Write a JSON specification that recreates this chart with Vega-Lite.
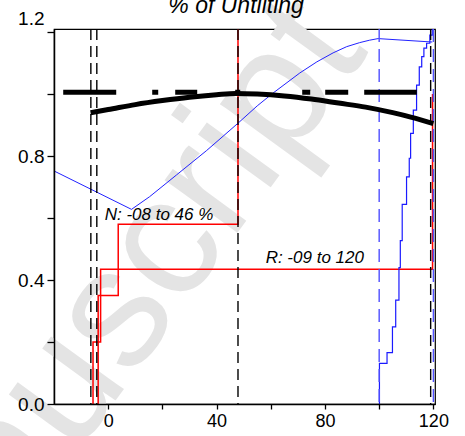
{
  "$schema": "https://vega.github.io/schema/vega-lite/v6.json",
  "autosize": "none",
  "width": 381,
  "height": 375,
  "padding": {"left": 54, "top": 29, "right": 30, "bottom": 32},
  "background": "white",
  "config": {
    "font": "Liberation Sans",
    "view": {"stroke": "black", "strokeWidth": 1.2}
  },
  "datasets": {
    "watermark": [{"label": "Manuscript", "x": -9, "y": 0.15}],
    "heading": [{"label": "% of Untilting", "x": 47.2, "y": 1.262}],
    "redcdf": [
      {"series": "R", "o": 1, "x": -5.6, "y": 0},
      {"series": "R", "o": 2, "x": -5.6, "y": 0.2},
      {"series": "R", "o": 3, "x": -2.8, "y": 0.435},
      {"series": "R", "o": 4, "x": 119.7, "y": 1.0},
      {"series": "N", "o": 1, "x": -3.7, "y": 0},
      {"series": "N", "o": 2, "x": -3.7, "y": 0.35},
      {"series": "N", "o": 3, "x": 3.7, "y": 0.58},
      {"series": "N", "o": 4, "x": 47.9, "y": 1.21}
    ],
    "bluecdf": [
      {"o": 1, "x": 100.1, "y": 0},
      {"o": 2, "x": 100.1, "y": 0.131},
      {"o": 3, "x": 102.9, "y": 0.166},
      {"o": 4, "x": 104.9, "y": 0.249},
      {"o": 5, "x": 106.1, "y": 0.335},
      {"o": 6, "x": 107.3, "y": 0.44},
      {"o": 7, "x": 107.8, "y": 0.527},
      {"o": 8, "x": 108.5, "y": 0.644},
      {"o": 9, "x": 110.1, "y": 0.733},
      {"o": 10, "x": 111.1, "y": 0.793},
      {"o": 11, "x": 111.6, "y": 0.873},
      {"o": 12, "x": 112.6, "y": 0.948},
      {"o": 13, "x": 113.8, "y": 1.029},
      {"o": 14, "x": 114.8, "y": 1.088},
      {"o": 15, "x": 115.7, "y": 1.121},
      {"o": 16, "x": 116.5, "y": 1.148},
      {"o": 17, "x": 117.5, "y": 1.164},
      {"o": 18, "x": 118.7, "y": 1.19},
      {"o": 19, "x": 119.6, "y": 1.21}
    ],
    "bluecurve": [
      {"o": 1, "x": -20, "y": 0.752},
      {"o": 2, "x": 8.6, "y": 0.628},
      {"o": 3, "x": 15.3, "y": 0.669},
      {"o": 4, "x": 25.2, "y": 0.739},
      {"o": 5, "x": 36.2, "y": 0.817},
      {"o": 6, "x": 42.4, "y": 0.864},
      {"o": 7, "x": 47.9, "y": 0.906},
      {"o": 8, "x": 55, "y": 0.962},
      {"o": 9, "x": 60.8, "y": 1.003},
      {"o": 10, "x": 70.7, "y": 1.068},
      {"o": 11, "x": 77, "y": 1.104},
      {"o": 12, "x": 83, "y": 1.133},
      {"o": 13, "x": 88, "y": 1.153},
      {"o": 14, "x": 92.8, "y": 1.166},
      {"o": 15, "x": 96.5, "y": 1.174},
      {"o": 16, "x": 99.6, "y": 1.179},
      {"o": 17, "x": 119.6, "y": 1.168}
    ],
    "vblack": [{"x": -6.4}, {"x": -4.2}, {"x": 47.9}, {"x": 119}],
    "vblue": [{"x": 100}, {"x": 120}],
    "blackcurve": [
      {"x": -6.5, "y": 0.94},
      {"x": 0, "y": 0.95},
      {"x": 10, "y": 0.966},
      {"x": 20, "y": 0.979},
      {"x": 30, "y": 0.99},
      {"x": 40, "y": 0.998},
      {"x": 47, "y": 1.002},
      {"x": 55, "y": 1.0},
      {"x": 65, "y": 0.994},
      {"x": 75, "y": 0.984},
      {"x": 85, "y": 0.971},
      {"x": 95, "y": 0.958},
      {"x": 105, "y": 0.94},
      {"x": 112, "y": 0.925},
      {"x": 120, "y": 0.905}
    ],
    "blackdash": [{"x": -16.6, "y": 1.006}, {"x": 113.9, "y": 1.006}],
    "labels": [
      {"label": "N: -08 to 46 %", "x": -1.3, "y": 0.594},
      {"label": "R: -09 to 120", "x": 58.1, "y": 0.456}
    ]
  },
  "encoding": {
    "x": {
      "field": "x",
      "type": "quantitative",
      "scale": {"domain": [-20, 120.6], "nice": false, "zero": false},
      "axis": {
        "title": null,
        "grid": false,
        "zindex": 1,
        "values": [0, 20, 40, 60, 80, 100, 120],
        "labelExpr": "datum.value % 40 === 0 ? datum.label : ''",
        "labelFont": "Liberation Sans",
        "labelFontSize": 18,
        "labelColor": "black",
        "labelPadding": 3,
        "tickSize": 5,
        "tickColor": "black",
        "tickWidth": 1.3,
        "domainColor": "black",
        "domainWidth": 1.5
      }
    }
  },
  "layer": [
    {
      "data": {"name": "watermark"},
      "mark": {"type": "text", "fontSize": 170, "angle": -54, "color": "#e4e4e4", "align": "center", "baseline": "middle", "font": "Liberation Sans"},
      "encoding": {
        "y": {"field": "y", "type": "quantitative", "scale": {"domain": [0, 1.21], "nice": false, "zero": false}, "axis": {"title": null, "grid": false, "zindex": 1, "values": [0, 0.2, 0.4, 0.6, 0.8, 1.0, 1.2], "format": ".1f", "labelExpr": "indexof(['0.0','0.4','0.8','1.2'], datum.label) >= 0 ? datum.label : ''", "labelFont": "Liberation Sans", "labelFontSize": 19, "labelColor": "black", "labelPadding": 3, "labelOffset": {"condition": {"test": "datum.value > 1.15", "value": -14}, "value": 0}, "tickSize": 7, "tickColor": "black", "tickWidth": 1.3, "domainColor": "black", "domainWidth": 1.5}},
        "text": {"field": "label"}
      }
    },
    {
      "data": {"name": "redcdf"},
      "mark": {"type": "line", "interpolate": "step-after", "color": "#ff0000", "strokeWidth": 1.5},
      "encoding": {
        "y": {"field": "y", "type": "quantitative", "scale": {"domain": [0, 1.21], "nice": false, "zero": false}, "axis": {"title": null, "grid": false, "zindex": 1, "values": [0, 0.2, 0.4, 0.6, 0.8, 1.0, 1.2], "format": ".1f", "labelExpr": "indexof(['0.0','0.4','0.8','1.2'], datum.label) >= 0 ? datum.label : ''", "labelFont": "Liberation Sans", "labelFontSize": 19, "labelColor": "black", "labelPadding": 3, "labelOffset": {"condition": {"test": "datum.value > 1.15", "value": -14}, "value": 0}, "tickSize": 7, "tickColor": "black", "tickWidth": 1.3, "domainColor": "black", "domainWidth": 1.5}},
        "detail": {"field": "series"},
        "order": {"field": "o"}
      }
    },
    {
      "data": {"name": "bluecdf"},
      "mark": {"type": "line", "interpolate": "step-after", "color": "#1a1aff", "strokeWidth": 1.2},
      "encoding": {
        "y": {"field": "y", "type": "quantitative", "scale": {"domain": [0, 1.21], "nice": false, "zero": false}, "axis": {"title": null, "grid": false, "zindex": 1, "values": [0, 0.2, 0.4, 0.6, 0.8, 1.0, 1.2], "format": ".1f", "labelExpr": "indexof(['0.0','0.4','0.8','1.2'], datum.label) >= 0 ? datum.label : ''", "labelFont": "Liberation Sans", "labelFontSize": 19, "labelColor": "black", "labelPadding": 3, "labelOffset": {"condition": {"test": "datum.value > 1.15", "value": -14}, "value": 0}, "tickSize": 7, "tickColor": "black", "tickWidth": 1.3, "domainColor": "black", "domainWidth": 1.5}},
        "order": {"field": "o"}
      }
    },
    {
      "data": {"name": "bluecurve"},
      "mark": {"type": "line", "color": "#2222ff", "strokeWidth": 1},
      "encoding": {
        "y": {"field": "y", "type": "quantitative", "scale": {"domain": [0, 1.21], "nice": false, "zero": false}, "axis": {"title": null, "grid": false, "zindex": 1, "values": [0, 0.2, 0.4, 0.6, 0.8, 1.0, 1.2], "format": ".1f", "labelExpr": "indexof(['0.0','0.4','0.8','1.2'], datum.label) >= 0 ? datum.label : ''", "labelFont": "Liberation Sans", "labelFontSize": 19, "labelColor": "black", "labelPadding": 3, "labelOffset": {"condition": {"test": "datum.value > 1.15", "value": -14}, "value": 0}, "tickSize": 7, "tickColor": "black", "tickWidth": 1.3, "domainColor": "black", "domainWidth": 1.5}},
        "order": {"field": "o"}
      }
    },
    {
      "data": {"name": "vblack"},
      "mark": {"type": "rule", "color": "black", "strokeWidth": 1.4, "strokeDash": [11, 6]},
      "encoding": {}
    },
    {
      "data": {"name": "vblue"},
      "mark": {"type": "rule", "color": "#4f4fff", "strokeWidth": 1.4, "strokeDash": [13, 7]},
      "encoding": {}
    },
    {
      "data": {"name": "blackcurve"},
      "mark": {"type": "line", "interpolate": "monotone", "color": "black", "strokeWidth": 5},
      "encoding": {
        "y": {"field": "y", "type": "quantitative", "scale": {"domain": [0, 1.21], "nice": false, "zero": false}, "axis": {"title": null, "grid": false, "zindex": 1, "values": [0, 0.2, 0.4, 0.6, 0.8, 1.0, 1.2], "format": ".1f", "labelExpr": "indexof(['0.0','0.4','0.8','1.2'], datum.label) >= 0 ? datum.label : ''", "labelFont": "Liberation Sans", "labelFontSize": 19, "labelColor": "black", "labelPadding": 3, "labelOffset": {"condition": {"test": "datum.value > 1.15", "value": -14}, "value": 0}, "tickSize": 7, "tickColor": "black", "tickWidth": 1.3, "domainColor": "black", "domainWidth": 1.5}}
      }
    },
    {
      "data": {"name": "blackdash"},
      "mark": {"type": "line", "color": "black", "strokeWidth": 5, "strokeCap": "butt", "strokeDash": [53, 36, 6, 17, 22, 38, 5, 62, 8, 15, 23, 16, 53, 100]},
      "encoding": {
        "y": {"field": "y", "type": "quantitative", "scale": {"domain": [0, 1.21], "nice": false, "zero": false}, "axis": {"title": null, "grid": false, "zindex": 1, "values": [0, 0.2, 0.4, 0.6, 0.8, 1.0, 1.2], "format": ".1f", "labelExpr": "indexof(['0.0','0.4','0.8','1.2'], datum.label) >= 0 ? datum.label : ''", "labelFont": "Liberation Sans", "labelFontSize": 19, "labelColor": "black", "labelPadding": 3, "labelOffset": {"condition": {"test": "datum.value > 1.15", "value": -14}, "value": 0}, "tickSize": 7, "tickColor": "black", "tickWidth": 1.3, "domainColor": "black", "domainWidth": 1.5}}
      }
    },
    {
      "data": {"name": "labels"},
      "mark": {"type": "text", "fontSize": 17, "fontStyle": "italic", "align": "left", "baseline": "alphabetic", "color": "black", "font": "Liberation Sans"},
      "encoding": {
        "y": {"field": "y", "type": "quantitative", "scale": {"domain": [0, 1.21], "nice": false, "zero": false}, "axis": {"title": null, "grid": false, "zindex": 1, "values": [0, 0.2, 0.4, 0.6, 0.8, 1.0, 1.2], "format": ".1f", "labelExpr": "indexof(['0.0','0.4','0.8','1.2'], datum.label) >= 0 ? datum.label : ''", "labelFont": "Liberation Sans", "labelFontSize": 19, "labelColor": "black", "labelPadding": 3, "labelOffset": {"condition": {"test": "datum.value > 1.15", "value": -14}, "value": 0}, "tickSize": 7, "tickColor": "black", "tickWidth": 1.3, "domainColor": "black", "domainWidth": 1.5}},
        "text": {"field": "label"}
      }
    },
    {
      "data": {"name": "heading"},
      "mark": {"type": "text", "fontSize": 23, "fontStyle": "italic", "align": "center", "baseline": "alphabetic", "color": "black", "font": "Liberation Sans"},
      "encoding": {
        "y": {"field": "y", "type": "quantitative", "scale": {"domain": [0, 1.21], "nice": false, "zero": false}, "axis": {"title": null, "grid": false, "zindex": 1, "values": [0, 0.2, 0.4, 0.6, 0.8, 1.0, 1.2], "format": ".1f", "labelExpr": "indexof(['0.0','0.4','0.8','1.2'], datum.label) >= 0 ? datum.label : ''", "labelFont": "Liberation Sans", "labelFontSize": 19, "labelColor": "black", "labelPadding": 3, "labelOffset": {"condition": {"test": "datum.value > 1.15", "value": -14}, "value": 0}, "tickSize": 7, "tickColor": "black", "tickWidth": 1.3, "domainColor": "black", "domainWidth": 1.5}},
        "text": {"field": "label"}
      }
    }
  ]
}
